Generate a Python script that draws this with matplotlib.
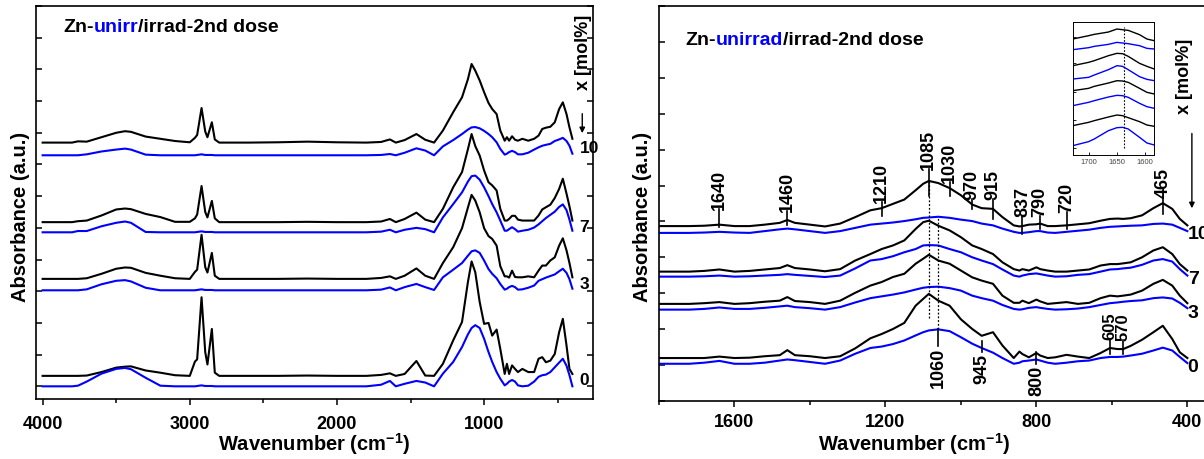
import numpy as np
import matplotlib
matplotlib.use("Agg")
import matplotlib.pyplot as plt

plt.rcParams['font.family'] = ['Liberation Sans', 'DejaVu Sans']
plt.rcParams['font.weight'] = 'bold'
plt.rcParams['mathtext.fontset'] = 'custom'
plt.rcParams['mathtext.rm'] = 'Liberation Sans:bold'
plt.rcParams['mathtext.it'] = 'Liberation Sans:bold'
plt.rcParams['mathtext.bf'] = 'Liberation Sans:bold'

# ---------------- data (absorbance above each trace's own baseline, a.u.) ----------------
doses = ['10', '7', '3', '0']

# left panel: full range 4000-400 cm-1
left_wn = [4000, 3800, 3760, 3700, 3600, 3500, 3440, 3400, 3300, 3200, 3100, 3000, 2965, 2950,
           2920, 2895, 2880, 2850, 2830, 2800, 2600, 2400, 2200, 2000,
           1800, 1700, 1640, 1600, 1540, 1460, 1400, 1340, 1280, 1210, 1150, 1110, 1085, 1060,
           1030, 1000, 970, 945, 915, 890, 860, 845, 830, 810, 790, 770, 740, 700, 660, 630,
           605, 580, 550, 520, 490, 465, 440, 420, 400]

left_black_10 = [0, 0, .04, .03, .17, .31, .36, .34, .19, .12, .05, .01, .15, .24, 1.09, .35, .17, .64, .1, 0, 0, .01, .03, .01,
                 0, .02, .1, 0, .08, .27, .09, 0, .38, .96, 1.43, 2.0, 2.48, 2.27, 1.96, 1.59, 1.25, 1.06, .9, .38,
                 .06, .17, .06, .2, .09, .06, .12, .06, .12, .22, .43, .47, .5, .64, 1.06, 1.27, .9, .48, .12]
left_blue_10 = [0, 0, 0, .03, .12, .18, .21, .18, .02, 0, 0, 0, 0, .01, .03, .01, .01, .01, 0, 0, 0, 0, 0, 0,
                0, .01, .04, 0, .08, .22, .15, 0, .28, .48, .67, .81, .88, .89, .85, .77, .67, .57, .41, .2,
                .02, .05, .1, .14, .1, .03, .03, .08, .18, .25, .3, .33, .36, .45, .5, .55, .45, .3, .05]
left_black_7 = [0, 0, .03, .05, .21, .4, .43, .41, .26, .16, .01, .01, .12, .24, 1.14, .32, .15, .67, .12, 0, 0, 0, .01, 0,
                0, .02, .1, 0, .1, .3, .08, 0, .42, 1.1, 1.58, 2.3, 2.78, 2.4, 2.1, 1.63, 1.26, 1.16, 1.0, .42,
                .05, .05, .1, .2, .2, .08, .05, .05, .05, .21, .4, .47, .55, .76, 1.05, 1.37, .9, .5, .05]
left_blue_7 = [0, 0, .04, .04, .19, .3, .34, .3, .01, 0, 0, 0, 0, .01, .03, .01, .01, .01, 0, 0, 0, 0, 0, 0,
               0, .02, .08, 0, .08, .14, .1, 0, .47, .89, 1.26, 1.6, 1.77, 1.79, 1.66, 1.42, 1.14, .89, .63, .37,
               .05, .05, .1, .16, .1, .02, .05, .08, .15, .25, .35, .45, .55, .65, .8, .88, .7, .4, .05]
left_black_3 = [0, 0, 0, .02, .16, .32, .36, .35, .19, .1, .02, 0, .22, .29, 1.39, .37, .2, .82, .1, 0, 0, 0, .01, 0,
                0, .03, .08, 0, .1, .33, .1, 0, .5, 1.0, 1.6, 2.25, 2.65, 2.47, 2.1, 1.6, 1.35, 1.26, 1.05, .4,
                .08, .08, .04, .26, .06, .05, .05, .08, .05, .26, .42, .42, .58, .68, 1.05, 1.28, .9, .5, .05]
left_blue_3 = [0, 0, 0, .03, .19, .3, .32, .28, .08, 0, 0, 0, 0, .01, .03, .01, .01, .01, 0, 0, 0, 0, 0, 0,
               0, .02, .09, 0, .1, .2, .1, .01, .41, .65, .86, 1.09, 1.23, 1.26, 1.18, .94, .67, .52, .38, .2,
               .02, .05, .1, .14, .1, .02, .03, .08, .15, .3, .35, .4, .45, .5, .6, .68, .55, .35, .05]
left_black_0 = [0, 0, 0, .01, .12, .26, .29, .3, .17, .1, .02, 0, .45, .52, 2.48, .75, .36, 1.48, .1, 0, 0, 0, .01, 0,
                0, .03, .08, 0, .06, .47, .01, 0, .38, 1.12, 1.7, 2.96, 3.61, 3.27, 2.33, 1.64, 1.67, 1.27, 1.46, .85,
                .06, .38, .06, .33, .22, .12, .22, .12, .12, .54, .59, .43, .48, .69, 1.38, 1.8, .96, .22, .06]
left_blue_0 = [0, 0, .02, .15, .4, .55, .58, .54, .27, .02, 0, 0, 0, .01, .03, .01, .01, .01, 0, 0, 0, 0, 0, 0,
               0, .05, .17, 0, .08, .17, .12, 0, .4, .77, 1.24, 1.64, 1.84, 1.93, 1.84, 1.5, 1.08, .77, .45, .24,
               .03, .08, .15, .2, .15, .03, 0, .02, .15, .3, .35, .37, .45, .6, .75, .87, .65, .35, 0]

# right panel: 1800-400 cm-1
right_wn = [1800, 1720, 1680, 1640, 1600, 1560, 1520, 1480, 1460, 1440, 1400, 1360, 1320, 1280, 1240,
            1210, 1180, 1150, 1120, 1100, 1085, 1060, 1030, 1000, 970, 945, 915, 890, 860, 845, 837,
            820, 800, 790, 770, 750, 720, 690, 660, 630, 605, 585, 570, 550, 520, 490, 465, 440, 420, 400]

right_black_10 = [0, 0, .01, .04, 0, 0, .04, .09, .17, .09, .04, -.01, .07, .25, .44, .5, .62, .74, 1.0, 1.18,
                  1.26, 1.2, 1.06, .86, .6, .5, .48, .25, .02, -.01, 0, .04, .05, .07, 0, 0, .02, .05, .08, .15,
                  .2, .21, .2, .22, .3, .5, .64, .48, .2, .02]
right_blue_10 = [0, 0, .01, .03, .01, 0, .05, .1, .12, .1, .05, 0, .05, .14, .23, .26, .29, .33, .38, .42,
                 .43, .45, .42, .37, .33, .26, .21, .12, .03, 0, 0, .02, .05, .05, .01, 0, .03, .06, .09, .14,
                 .17, .18, .19, .2, .21, .25, .26, .23, .14, .05]
right_black_7 = [0, 0, .02, .06, 0, .02, .06, .1, .18, .1, .06, .01, .07, .31, .49, .63, .73, .87, 1.19, 1.38,
                 1.42, 1.28, 1.15, .96, .73, .63, .49, .26, .07, .03, .07, .03, .12, .07, .03, 0, 0, .03, .06, .17,
                 .21, .21, .23, .26, .4, .59, .68, .49, .21, .03]
right_blue_7 = [0, 0, .01, .03, 0, .01, .03, .05, .07, .05, .02, -.01, .03, .23, .45, .49, .57, .68, .77, .87,
                .88, .87, .77, .68, .54, .45, .35, .2, .03, 0, .03, .07, .09, .07, .03, 0, .01, .05, .07, .14,
                .2, .21, .23, .25, .33, .45, .49, .42, .21, .03]
right_black_3 = [0, 0, .02, .05, 0, .02, .06, .09, .19, .08, .05, 0, .09, .31, .51, .61, .75, .84, 1.12, 1.26,
                 1.37, 1.21, 1.12, .93, .74, .65, .56, .23, .03, .03, .09, .02, .12, .07, 0, .02, .05, 0, .03, .16,
                 .23, .21, .23, .26, .37, .56, .67, .51, .23, .02]
right_blue_3 = [0, 0, .02, .06, .02, .02, .05, .09, .11, .07, .04, 0, .07, .2, .32, .37, .42, .48, .56, .61,
                .63, .64, .6, .53, .39, .32, .25, .13, .02, 0, .01, .05, .07, .05, .02, 0, .01, .03, .07, .13,
                .18, .2, .22, .24, .26, .32, .34, .31, .19, .04]
right_black_0 = [0, 0, 0, .04, 0, .01, .05, .08, .22, .08, .05, 0, .05, .27, .55, .67, .81, .98, 1.46, 1.65,
                 1.79, 1.6, 1.46, 1.08, .81, .62, .72, .35, 0, .18, .11, .02, .14, .07, 0, .02, .09, .04, 0, .14,
                 .28, .25, .25, .34, .51, .72, .9, .53, .16, 0]
right_blue_0 = [0, 0, .03, .08, 0, 0, .03, .09, .12, .1, .05, 0, .09, .28, .44, .48, .55, .65, .79, .88,
                .93, .96, .91, .74, .56, .44, .31, .16, 0, .03, .07, .09, .12, .09, .03, 0, .03, .07, .09, .16,
                .19, .19, .2, .23, .28, .37, .45, .37, .19, .02]

# inset: 1640 cm-1 band, top to bottom
inset_wn = [1728, 1700, 1690, 1665, 1650, 1640, 1630, 1610, 1597, 1584]
inset_curves = [
    [0, .1, .14, .21, .3, .28, .26, .13, 0, -.05],
    [0, .06, .1, .16, .22, .2, .18, .12, .04, .02],
    [0, .1, .15, .3, .37, .36, .28, .07, -.02, -.1],
    [0, .05, .12, .28, .4, .38, .28, .07, -.01, -.05],
    [0, .07, .13, .23, .3, .29, .25, .07, -.05, -.1],
    [0, .1, .15, .26, .31, .3, .25, .07, -.03, -.08],
    [0, .1, .15, .26, .32, .3, .24, .12, .02, -.02],
    [0, .12, .2, .45, .54, .55, .5, .25, .08, .02],
]

top_bands = [1640, 1460, 1210, 1085, 1030, 970, 915, 837, 790, 720, 465]
low_bands = [1060, 945, 800]
mid_bands = [605, 570]

# ---------------- layout ----------------
BLUE = '#0000ff'
left_offsets = [7.69, 7.29, 5.18, 4.86, 3.39, 3.03, 0.33, 0.0]
right_offsets = [4.87, 4.68, 3.60, 3.46, 2.70, 2.54, 1.19, 1.03]
inset_offsets = [3.48, 3.16, 2.68, 2.28, 1.93, 1.48, 0.88, 0.28]

fig = plt.figure(figsize=(12.04, 4.6), dpi=100)
axL = fig.add_axes([36 / 1204, 60 / 460, 557 / 1204, 393 / 460])
axR = fig.add_axes([659 / 1204, 58.3 / 460, 551 / 1204, 394.4 / 460])

left_traces = [left_black_10, left_blue_10, left_black_7, left_blue_7,
               left_black_3, left_blue_3, left_black_0, left_blue_0]
right_traces = [right_black_10, right_blue_10, right_black_7, right_blue_7,
                right_black_3, right_blue_3, right_black_0, right_blue_0]
colors = ['black', BLUE] * 4

for tr, off, c in zip(left_traces, left_offsets, colors):
    axL.plot(left_wn, np.array(tr) + off, color=c, lw=1.5)
for tr, off, c in zip(right_traces, right_offsets, colors):
    axR.plot(right_wn, np.array(tr) + off, color=c, lw=1.5)


def style_axes(ax, pad):
    for sp in ax.spines.values():
        sp.set_linewidth(1.2)
    ax.tick_params(axis='y', which='both', direction='in', length=4, width=1.1, labelleft=False)
    ax.tick_params(axis='x', which='major', direction='out', length=4, width=1.1, labelsize=13, pad=pad)
    ax.tick_params(axis='x', which='minor', direction='out', length=3, width=1.1)


axL.set_xlim(4045, 260)
axL.set_ylim(-0.4, 12)
axL.set_xticks([4000, 3000, 2000, 1000])
axL.set_xticks([3500, 2500, 1500, 500], minor=True)
axL.set_yticks(range(0, 13))
style_axes(axL, 7.5)
axL.tick_params(axis='y', right=True)

axR.set_xlim(1800, 340)
axR.set_ylim(0, 11)
axR.set_xticks([1600, 1200, 800, 400])
axR.set_xticks([1800, 1400, 1000, 600], minor=True)
axR.set_yticks(range(0, 12))
style_axes(axR, 4.5)


def colored_title(ax, x, y, parts):
    t = ax.text(x, y, parts[0][0], color=parts[0][1], transform=ax.transAxes,
                fontsize=14, fontweight='bold', va='bottom', ha='left')
    for s, c in parts[1:]:
        t = ax.annotate(s, xy=(1, 0), xycoords=t, color=c, fontsize=14,
                        fontweight='bold', va='bottom', ha='left')


colored_title(axL, 0.0485, 0.926, [('Zn-', 'black'), ('unirr', BLUE), ('/irrad-2nd dose', 'black')])
colored_title(axR, 0.047, 0.894, [('Zn-', 'black'), ('unirrad', BLUE), ('/irrad-2nd dose', 'black')])

# dose labels
for lab, y in zip(doses, [7.55, 5.05, 3.26, 0.23]):
    axL.text(352, y, lab, fontsize=12.5, fontweight='bold', va='center', ha='left')
for lab, y in zip(doses, [4.65, 3.4, 2.47, 0.94]):
    axR.text(399, y, lab, fontsize=14, fontweight='bold', va='center', ha='left', clip_on=False)

axL.text(324, 10.56, 'x [mol%]', rotation=90, fontsize=13, fontweight='bold', ha='center', va='center')
axL.annotate('', xy=(333, 7.9), xytext=(333, 8.69),
             arrowprops=dict(arrowstyle='-|>', color='black', lw=1, mutation_scale=8))
axR.text(407, 9.07, 'x [mol%]', rotation=90, fontsize=13, fontweight='bold', ha='center', va='center')
axR.annotate('', xy=(388, 5.29), xytext=(388, 7.53),
             arrowprops=dict(arrowstyle='-|>', color='black', lw=1, mutation_scale=8))

# band markers
top_spans = [(4.85, 5.35), (4.91, 5.30), (5.16, 5.55), (5.72, 6.47), (5.72, 6.1), (5.35, 5.63),
             (5.07, 5.63), (4.65, 5.16), (4.79, 5.15), (4.79, 5.27), (5.21, 5.69)]
for wn, (y0, y1) in zip(top_bands, top_spans):
    axR.plot([wn, wn], [y0, y1], color='black', lw=1.2)
    axR.text(wn, y1, str(wn), rotation=90, fontsize=13, fontweight='bold', ha='center', va='bottom')

low_spans = [(1.53, 2.0), (1.36, 1.66), (1.03, 1.36)]
for wn, (y0, y1) in zip(low_bands, low_spans):
    axR.plot([wn, wn], [y0, y1], color='black', lw=1.2)
    axR.text(wn, y0 - 0.03, str(wn), rotation=90, fontsize=13, fontweight='bold', ha='center', va='top')

mid_spans = [(1.30, 1.72), (1.30, 1.68)]
for wn, (y0, y1) in zip(mid_bands, mid_spans):
    axR.plot([wn, wn], [y0, y1], color='black', lw=1.2)
    axR.text(wn, y1, str(wn), rotation=90, fontsize=12, fontweight='bold', ha='center', va='bottom')

axR.plot([1085, 1085], [2.32, 6.13], color='black', lw=0.9, ls=(0, (1.5, 1.5)))
axR.plot([1060, 1060], [2.0, 5.13], color='black', lw=0.9, ls=(0, (1.5, 1.5)))

# axis labels
fig.text(21 / 1204, 1 - 217 / 460, 'Absorbance (a.u.)', rotation=90, fontsize=14.5,
         fontweight='bold', ha='center', va='center')
fig.text(643 / 1204, 1 - 217 / 460, 'Absorbance (a.u.)', rotation=90, fontsize=14.5,
         fontweight='bold', ha='center', va='center')
fig.text(314 / 1204, 1 - 444 / 460, 'Wavenumber (cm$^{-1}$)', fontsize=14.5,
         fontweight='bold', ha='center', va='center')
fig.text(914 / 1204, 1 - 444 / 460, 'Wavenumber (cm$^{-1}$)', fontsize=14.5,
         fontweight='bold', ha='center', va='center')

# inset
axI = fig.add_axes([1072.7 / 1204, (460 - 156) / 460, 81.6 / 1204, 133.3 / 460])
for tr, off, c in zip(inset_curves, inset_offsets, colors):
    axI.plot(inset_wn, np.array(tr) + off, color=c, lw=1.0)
axI.plot([1638, 1638], [0.2, 3.85], color='black', lw=0.8, ls=(0, (1.5, 1.5)))
axI.set_xlim(1728, 1584)
axI.set_ylim(0, 4)
axI.set_xticks([1700, 1650, 1600])
axI.set_yticks([0.2, 1.05, 1.9, 2.75, 3.55])
axI.tick_params(axis='both', direction='in', length=2, width=0.6, labelsize=5.5,
                labelleft=False, labelcolor='#444444', pad=2)
for sp in axI.spines.values():
    sp.set_linewidth(0.7)
for lbl in axI.get_xticklabels():
    lbl.set_fontweight('normal')

fig.savefig('out.png', dpi=100)
